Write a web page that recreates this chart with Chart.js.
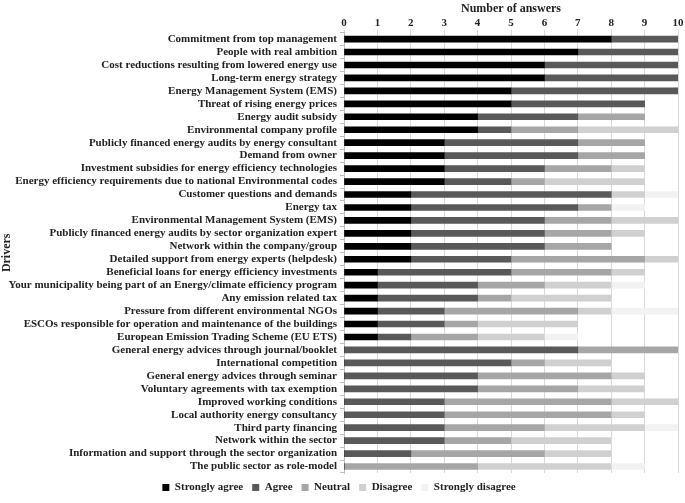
<!DOCTYPE html>
<html>
<head>
<meta charset="utf-8">
<script src="https://cdn.jsdelivr.net/npm/chart.js@4"></script>
<style>
  html, body { margin: 0; padding: 0; background: #fff; }
  #wrap { width: 685px; height: 503px; }
</style>
</head>
<body>
<div id="wrap"><canvas id="driversChart" width="685" height="503"></canvas></div>
<script>
const drivers = [
  'Commitment from top management',
  'People with real ambition',
  'Cost reductions resulting from lowered energy use',
  'Long-term energy strategy',
  'Energy Management System (EMS)',
  'Threat of rising energy prices',
  'Energy audit subsidy',
  'Environmental company profile',
  'Publicly financed energy audits by energy consultant',
  'Demand from owner',
  'Investment subsidies for energy efficiency technologies',
  'Energy efficiency requirements due to national Environmental codes',
  'Customer questions and demands',
  'Energy tax',
  'Environmental Management System (EMS)',
  'Publicly financed energy audits by sector organization expert',
  'Network within the company/group',
  'Detailed support from energy experts (helpdesk)',
  'Beneficial loans for energy efficiency investments',
  'Your municipality being part of an Energy/climate efficiency program',
  'Any emission related tax',
  'Pressure from different environmental NGOs',
  'ESCOs responsible for operation and maintenance of the buildings',
  'European Emission Trading Scheme (EU ETS)',
  'General energy advices through journal/booklet',
  'International competition',
  'General energy advices through seminar',
  'Voluntary agreements with tax exemption',
  'Improved working conditions',
  'Local authority energy consultancy',
  'Third party financing',
  'Network within the sector',
  'Information and support through the sector organization',
  'The public sector as role-model'
];

const stronglyAgree    = [8, 7, 6, 6, 5, 5, 4, 4, 3, 3, 3, 3, 2, 2, 2, 2, 2, 2, 1, 1, 1, 1, 1, 1, 0, 0, 0, 0, 0, 0, 0, 0, 0, 0];
const agree            = [2, 3, 4, 4, 5, 4, 3, 1, 4, 4, 3, 2, 6, 5, 4, 4, 4, 3, 4, 3, 3, 2, 2, 1, 7, 5, 4, 4, 3, 3, 3, 3, 2, 0];
const neutral          = [0, 0, 0, 0, 0, 0, 2, 2, 2, 2, 2, 1, 0, 1, 2, 2, 2, 4, 3, 2, 1, 4, 1, 2, 3, 1, 4, 3, 5, 5, 3, 2, 4, 4];
const disagree         = [0, 0, 0, 0, 0, 0, 0, 3, 0, 0, 1, 3, 1, 0, 2, 1, 0, 1, 1, 2, 3, 1, 3, 2, 0, 2, 1, 2, 2, 1, 3, 3, 2, 4];
const stronglyDisagree = [0, 0, 0, 0, 0, 0, 0, 0, 0, 0, 0, 0, 1, 1, 0, 0, 0, 0, 0, 1, 0, 2, 0, 1, 0, 0, 0, 0, 0, 0, 1, 0, 0, 1];

const xTicks = [0, 1, 2, 3, 4, 5, 6, 7, 8, 9, 10];

const serif = "'Liberation Serif', 'DejaVu Serif', serif";

const ctx = document.getElementById('driversChart');

function series(label, data, color) {
  return {
    label: label,
    data: data,
    backgroundColor: color,
    borderWidth: 0,
    barThickness: 6
  };
}

new Chart(ctx, {
  type: 'bar',
  data: {
    labels: drivers,
    datasets: [
      series('Strongly agree', stronglyAgree, '#000000'),
      series('Agree', agree, '#595959'),
      series('Neutral', neutral, '#a6a6a6'),
      series('Disagree', disagree, '#d0d0d0'),
      series('Strongly disagree', stronglyDisagree, '#f2f2f2')
    ]
  },
  options: {
    indexAxis: 'y',
    responsive: false,
    animation: false,
    layout: {
      padding: { left: 0, right: 7, top: 2, bottom: 0 }
    },
    scales: {
      x: {
        position: 'top',
        stacked: true,
        min: 0,
        max: 10,
        afterBuildTicks: (axis) => {
          axis.ticks = xTicks.map(v => ({ value: v }));
        },
        ticks: {
          color: '#222',
          padding: 0,
          font: { family: serif, weight: 'bold', size: 11 }
        },
        grid: {
          color: '#d9d9d9',
          tickLength: 3
        },
        border: { display: false },
        title: {
          display: true,
          text: 'Number of answers',
          color: '#222',
          padding: { top: 0, bottom: 0 },
          font: { family: serif, weight: 'bold', size: 12 }
        }
      },
      y: {
        stacked: true,
        afterFit: (axis) => { axis.width = 344; },
        ticks: {
          color: '#222',
          padding: 3,
          autoSkip: false,
          font: { family: serif, weight: 'bold', size: 11 }
        },
        grid: {
          drawOnChartArea: false,
          tickLength: 4,
          color: '#bfbfbf',
          offset: true
        },
        border: { display: true, color: '#bfbfbf' },
        title: {
          display: true,
          text: 'Drivers',
          color: '#222',
          padding: { top: 0, bottom: 0 },
          font: { family: serif, weight: 'bold', size: 12 }
        }
      }
    },
    plugins: {
      legend: {
        position: 'bottom',
        labels: {
          boxWidth: 7,
          boxHeight: 7,
          padding: 9,
          color: '#222',
          font: { family: serif, weight: 'bold', size: 11 }
        }
      },
      tooltip: { enabled: false }
    }
  }
});
</script>
</body>
</html>
